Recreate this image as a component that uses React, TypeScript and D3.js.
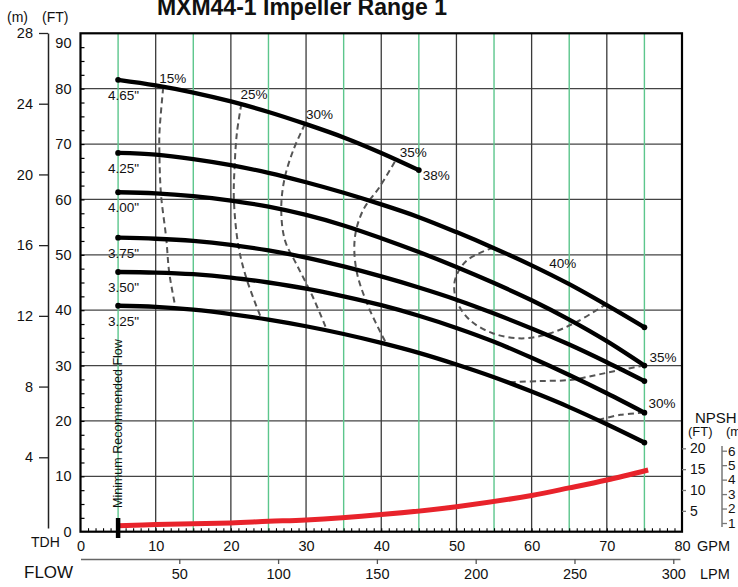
import * as d3 from "d3";
import { useEffect, useRef } from "react";

// flow points (GPM) used by the impeller curves
const gpmShort = [5, 10, 15, 20, 25, 30, 35, 40, 45];
const gpmFull = [5, 10, 15, 20, 25, 30, 35, 40, 45, 50, 55, 60, 65, 70, 75];

// head (FT) per impeller diameter
const impellerNames = ['4.65"', '4.25"', '4.00"', '3.75"', '3.50"', '3.25"'];
const head465 = [81.6, 80.6, 79.3, 77.7, 75.8, 73.6, 71.2, 68.4, 65.3];
const head425 = [68.4, 68.1, 67.3, 66.2, 64.8, 63.1, 61.2, 59.1, 56.8, 54.1, 51.2, 48.1, 44.7, 40.9, 36.9];
const head400 = [61.3, 61.1, 60.6, 59.8, 58.7, 57.2, 55.3, 53.0, 50.5, 47.8, 44.9, 41.8, 38.3, 34.4, 30.0];
const head375 = [53.1, 52.9, 52.5, 51.8, 50.8, 49.5, 47.9, 46.1, 44.1, 41.9, 39.4, 36.7, 33.8, 30.6, 27.2];
const head350 = [46.9, 46.8, 46.5, 45.9, 45.0, 43.9, 42.5, 40.9, 39.0, 36.8, 34.3, 31.4, 28.3, 25.0, 21.5];
const head325 = [40.8, 40.6, 40.1, 39.3, 38.3, 37.1, 35.7, 34.1, 32.3, 30.2, 27.9, 25.3, 22.5, 19.4, 16.1];

// efficiency contours, [GPM, FT]
const eff15 = [[11.0, 80.2], [10.5, 72], [10.5, 68], [10.7, 61], [11.4, 53], [11.8, 46.8], [12.6, 40.7]];
const eff25 = [[21.4, 77.3], [20.8, 72], [20.5, 66], [20.4, 60], [21.0, 51.6], [22.1, 45.6], [24.1, 38.3]];
const eff30 = [[29.85, 73.6], [28.3, 68.9], [27.1, 63.5], [26.7, 58.1], [27.2, 52.6], [28.8, 48.1], [30.8, 42.7], [32.8, 36.3]];
const eff35 = [[41.8, 66.8], [39.8, 62.3], [37.6, 58.1], [36.5, 53.2], [36.7, 47.2], [38.3, 40.6], [40.7, 33.9]];
const eff40 = [[54.9, 51.3], [51.4, 49.0], [49.8, 45.4], [50.0, 41.8], [51.8, 38.2], [54.9, 35.8], [58.7, 34.9], [62.4, 35.8], [66.0, 37.9], [69.8, 41.0]];
const eff35b = [[57.1, 27.0], [61.1, 27.2], [65.1, 27.4], [68.6, 28.3], [71.8, 29.2], [75, 30.0]];
const eff30b = [[68.9, 20.2], [71.8, 21.1], [75, 21.5]];

// NPSH required (FT)
const npshGpm = [5, 10, 20, 25, 30, 40, 50, 60, 65, 70, 75.5];
const npshFt = [1.4, 1.7, 2.1, 2.5, 2.8, 4.1, 6.0, 8.7, 10.5, 12.4, 14.8];

// tick labels
const ftTicks = [0, 10, 20, 30, 40, 50, 60, 70, 80, 90];
const mTicks = [4, 8, 12, 16, 20, 24, 28];
const gpmTicks = [0, 10, 20, 30, 40, 50, 60, 70, 80];
const lpmTicks = [50, 100, 150, 200, 250, 300];
const npshFtTicks = [5, 10, 15, 20];
const npshMTicks = [1, 2, 3, 4, 5, 6];

export default function App() {
  const svgRef = useRef<SVGSVGElement>(null);

  useEffect(() => {
    const svg = d3.select(svgRef.current);
    svg.selectAll("*").remove();
    const font = "'Liberation Sans', Arial, Helvetica, sans-serif";
    svg.attr("font-family", font);

    const x = d3.scaleLinear().domain([0, 80]).range([80.5, 682]);
    const y = d3.scaleLinear().domain([0, 90]).range([531.7, 33.3]);
    const yM = d3.scaleLinear().domain([0, 28]).range([528, 33]);
    const yN = d3.scaleLinear().domain([0, 20]).range([531.7, 448.3]);
    const yNm = d3.scaleLinear().domain([1, 6]).range([523, 450.7]);
    const xL = d3.scaleLinear().domain([0, 303.4]).range([80.5, 680]);

    // grid
    const grid = svg.append("g");
    grid
      .selectAll("line")
      .data(ftTicks.filter((t) => t > 0 && t < 90))
      .join("line")
      .attr("x1", x(0))
      .attr("x2", x(80))
      .attr("y1", (d) => y(d))
      .attr("y2", (d) => y(d))
      .attr("stroke", "#444")
      .attr("stroke-width", 1.3);
    const vgrid = svg.append("g");
    vgrid
      .selectAll("line")
      .data(gpmTicks.filter((t) => t > 0 && t < 80))
      .join("line")
      .attr("x1", (d) => x(d))
      .attr("x2", (d) => x(d))
      .attr("y1", y(90))
      .attr("y2", y(0))
      .attr("stroke", "#3a3a3a")
      .attr("stroke-width", 1.3);
    const green = svg.append("g");
    green
      .selectAll("line")
      .data(gpmTicks.slice(0, -1).map((t) => t + 5))
      .join("line")
      .attr("x1", (d) => x(d))
      .attr("x2", (d) => x(d))
      .attr("y1", y(90))
      .attr("y2", y(0))
      .attr("stroke", "#5cc68c")
      .attr("stroke-width", 1.4);

    // frame
    svg
      .append("rect")
      .attr("x", x(0))
      .attr("y", y(90))
      .attr("width", x(80) - x(0))
      .attr("height", y(0) - y(90))
      .attr("fill", "none")
      .attr("stroke", "#000")
      .attr("stroke-width", 2.2);

    const styleAxis = (g: any, size: number) => {
      g.attr("font-family", font).attr("font-size", size);
      g.selectAll("text").attr("fill", "#111");
    };

    // FT axis (labels only) + inward minor ticks
    const ftAxis = svg
      .append("g")
      .attr("transform", `translate(${x(0) - 1},0)`)
      .call(d3.axisLeft(y).tickValues(ftTicks).tickSize(0).tickPadding(8));
    ftAxis.select(".domain").remove();
    styleAxis(ftAxis, 14.5);
    ftAxis.selectAll("text").filter((d: any) => d === 90).attr("dy", "0.95em");

    const ftMinor = svg
      .append("g")
      .attr("transform", `translate(${x(0)},0)`)
      .call(d3.axisRight(y).tickValues(d3.range(2.5, 90, 2.5)).tickSize(4).tickFormat(() => ""));
    ftMinor.select(".domain").remove();
    ftMinor.selectAll("line").attr("stroke", "#000").attr("stroke-width", 1.2);

    // meters axis
    const mAxis = svg
      .append("g")
      .attr("transform", "translate(48,0)")
      .call(d3.axisLeft(yM).tickValues(mTicks).tickSize(9).tickSizeOuter(0).tickPadding(6));
    mAxis.select(".domain").attr("stroke", "#222").attr("stroke-width", 1.5);
    mAxis.selectAll("line").attr("stroke", "#222").attr("stroke-width", 1.3);
    styleAxis(mAxis, 14.5);

    svg.append("text").attr("x", 7).attr("y", 22).attr("font-size", 14).attr("fill", "#111").text("(m)");
    svg.append("text").attr("x", 42).attr("y", 22).attr("font-size", 14).attr("fill", "#111").text("(FT)");

    // GPM axis
    const gpmAxis = svg
      .append("g")
      .attr("transform", `translate(0,${y(0)})`)
      .call(d3.axisBottom(x).tickValues(gpmTicks).tickSize(0).tickPadding(9));
    gpmAxis.select(".domain").remove();
    styleAxis(gpmAxis, 14.5);
    const gpmMinor = svg
      .append("g")
      .attr("transform", `translate(0,${y(0)})`)
      .call(d3.axisTop(x).tickValues(d3.range(1, 80, 1)).tickSize(3.5).tickFormat(() => ""));
    gpmMinor.select(".domain").remove();
    gpmMinor.selectAll("line").attr("stroke", "#000").attr("stroke-width", 1.1);

    svg.append("text").attr("x", 697).attr("y", 551).attr("font-size", 14.5).attr("fill", "#111").text("GPM");
    svg.append("text").attr("x", 31).attr("y", 547).attr("font-size", 14).attr("fill", "#111").text("TDH");

    // LPM axis
    const lpmAxis = svg
      .append("g")
      .attr("transform", "translate(0,559)")
      .call(d3.axisBottom(xL).tickValues(lpmTicks).tickSize(5).tickSizeOuter(0).tickPadding(5));
    lpmAxis.select(".domain").attr("stroke", "#666").attr("stroke-width", 1.6);
    lpmAxis.selectAll("line").attr("stroke", "#555").attr("stroke-width", 1.3);
    styleAxis(lpmAxis, 14.5);
    svg.append("text").attr("x", 700).attr("y", 579).attr("font-size", 14.5).attr("fill", "#111").text("LPM");
    svg.append("text").attr("x", 24).attr("y", 578).attr("font-size", 17).attr("fill", "#111").text("FLOW");

    // NPSH axes
    const nAxis = svg
      .append("g")
      .attr("transform", `translate(${x(80)},0)`)
      .call(d3.axisRight(yN).tickValues(npshFtTicks).tickSize(4).tickPadding(4));
    nAxis.select(".domain").remove();
    nAxis.selectAll("line").attr("stroke", "#777").attr("stroke-width", 1.3);
    styleAxis(nAxis, 14);

    svg
      .append("line")
      .attr("x1", 722)
      .attr("x2", 722)
      .attr("y1", 446)
      .attr("y2", 527)
      .attr("stroke", "#777")
      .attr("stroke-width", 1.5);
    const nmAxis = svg
      .append("g")
      .attr("transform", "translate(722,0)")
      .call(
        d3
          .axisRight(yNm)
          .tickValues(npshMTicks)
          .tickSize(5)
          .tickPadding(1)
          .tickFormat(d3.format("d") as any)
      );
    nmAxis.select(".domain").remove();
    nmAxis.selectAll("line").attr("stroke", "#777").attr("stroke-width", 1.3);
    styleAxis(nmAxis, 13.5);

    svg.append("text").attr("x", 695).attr("y", 423).attr("font-size", 15).attr("fill", "#111").text("NPSH");
    svg.append("text").attr("x", 688).attr("y", 436).attr("font-size", 13).attr("fill", "#111").text("(FT)");
    svg.append("text").attr("x", 726).attr("y", 436).attr("font-size", 13).attr("fill", "#111").text("(m)");

    // efficiency contours
    const effLine = d3
      .line<number[]>()
      .x((d) => x(d[0]))
      .y((d) => y(d[1]))
      .curve(d3.curveCatmullRom);
    const effs = [eff15, eff25, eff30, eff35, eff40, eff35b, eff30b];
    svg
      .append("g")
      .selectAll("path")
      .data(effs)
      .join("path")
      .attr("d", (d) => effLine(d))
      .attr("fill", "none")
      .attr("stroke", "#555")
      .attr("stroke-width", 2)
      .attr("stroke-dasharray", "6,4");

    // impeller curves
    const heads = [head465, head425, head400, head375, head350, head325];
    const impG = svg.append("g");
    heads.forEach((h, k) => {
      const gpm = k === 0 ? gpmShort : gpmFull;
      const line = d3
        .line<number>()
        .x((_, i) => x(gpm[i]))
        .y((d) => y(d))
        .curve(d3.curveCatmullRom);
      impG
        .append("path")
        .attr("d", line(h))
        .attr("fill", "none")
        .attr("stroke", "#000")
        .attr("stroke-width", 4.3)
        .attr("stroke-linecap", "round");
      [0, h.length - 1].forEach((i) =>
        impG.append("circle").attr("cx", x(gpm[i])).attr("cy", y(h[i])).attr("r", 2.9).attr("fill", "#000")
      );
      impG
        .append("text")
        .attr("x", x(gpm[0]) - 10)
        .attr("y", y(h[0]) + 20)
        .attr("font-size", 13.5)
        .attr("fill", "#111")
        .text(impellerNames[k]);
    });

    // efficiency labels
    const lab = (t: string, px: number, py: number) =>
      svg.append("text").attr("x", px).attr("y", py).attr("font-size", 13.5).attr("fill", "#111").text(t);
    lab("15%", x(eff15[0][0]) - 4, y(eff15[0][1]) - 5);
    lab("25%", x(eff25[0][0]) - 1, y(eff25[0][1]) - 5);
    lab("30%", x(eff30[0][0]) + 1, y(eff30[0][1]) - 5);
    lab("35%", x(eff35[0][0]) + 5, y(eff35[0][1]) - 5);
    lab("38%", x(gpmShort[8]) + 4, y(head465[8]) + 10);
    lab("40%", (x(eff40[0][0]) + x(eff40[9][0])) / 2, (y(eff40[0][1]) + y(eff40[9][1])) / 2 - 8);
    lab("35%", x(eff35b[5][0]) + 5, y(eff35b[5][1]) - 4);
    lab("30%", x(eff30b[2][0]) + 4, y(eff30b[2][1]) - 5);

    // NPSH curve
    const npshLine = d3
      .line<number>()
      .x((_, i) => x(npshGpm[i]))
      .y((d) => yN(d))
      .curve(d3.curveCatmullRom);
    svg
      .append("path")
      .attr("d", npshLine(npshFt))
      .attr("fill", "none")
      .attr("stroke", "#e8232b")
      .attr("stroke-width", 5);

    // minimum recommended flow
    svg
      .append("line")
      .attr("x1", x(5))
      .attr("x2", x(5))
      .attr("y1", 518)
      .attr("y2", 538)
      .attr("stroke", "#000")
      .attr("stroke-width", 4.5);
    svg
      .append("text")
      .attr("transform", `translate(${x(5) + 4},508) rotate(-90)`)
      .attr("font-size", 12.5)
      .attr("fill", "#111")
      .text("Minimum Recommended Flow");

    // title
    svg
      .append("text")
      .attr("x", 302)
      .attr("y", 15)
      .attr("text-anchor", "middle")
      .attr("font-size", 23)
      .attr("font-weight", "bold")
      .attr("fill", "#111")
      .text("MXM44-1 Impeller Range 1");
  }, []);

  return (
    <div style={{ position: "absolute", left: 0, top: 0, width: 738, height: 587, background: "#fff" }}>
      <svg ref={svgRef} width={738} height={587} style={{ display: "block" }} />
    </div>
  );
}
